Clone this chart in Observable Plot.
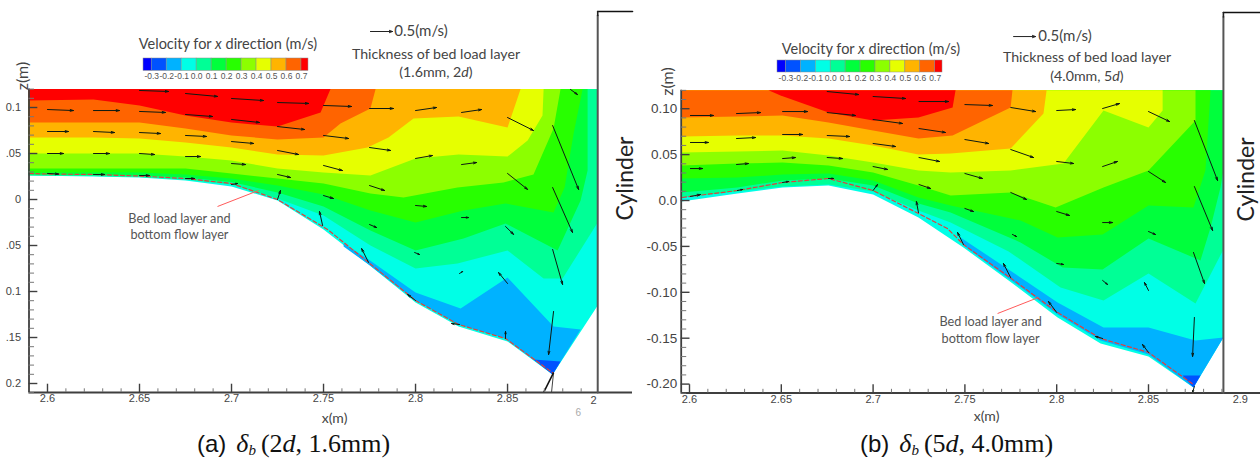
<!DOCTYPE html>
<html><head><meta charset="utf-8">
<script src="https://cdn.jsdelivr.net/npm/d3@7"></script>
<script src="https://cdn.jsdelivr.net/npm/@observablehq/plot@0.6"></script>
<style>
html,body{margin:0;padding:0;background:#fff;width:1260px;height:459px;overflow:hidden}
#page{position:relative;width:1260px;height:459px}
.slot{position:absolute}
.t{position:absolute;white-space:nowrap;font-family:Lato,sans-serif;color:#444;transform:translate(-50%,-50%)}
.c{position:absolute;white-space:nowrap;font-family:"Liberation Serif",serif;font-size:26px;line-height:28px;color:#111;transform:translate(0,-50%)}
.c .s{font-family:"Liberation Sans",sans-serif;font-size:24px;margin-right:10px}
.c .b{font-size:15px;font-style:italic;vertical-align:-3px;line-height:0;margin-right:5px}
</style></head><body><div id="page"></div>
<script>
// colour levels of the legend (m/s) and the 12 band colours
const levels=[-0.3,-0.2,-0.1,0,0.1,0.2,0.3,0.4,0.5,0.6,0.7];
const levelLabels=["-0.3","-0.2","-0.1","0.0","0.1","0.2","0.3","0.4","0.5","0.6","0.7"];
const bandColors=["#0000ff","#0052ff","#00b2ff","#00ffe6","#00ff96","#00ff3c","#28ff00","#8cff00","#e6ff00","#ffb400","#ff6400","#ff0000"];

// ---- panel (a): contour outlines [x, z]
const aBase=[[2.5897,.12],[2.5897,.0261],[2.625,.025],[2.65,.0239],[2.675,.0207],[2.7,.0141],[2.725,-.0011],[2.75,-.0326],[2.7745,-.0707],[2.8,-.112],[2.8234,-.138],[2.85,-.1543],[2.8745,-.1902],[2.899,-.1152],[2.899,.12]];
const aMinus1=[[2.7609,-.0478],[2.7745,-.0652],[2.8,-.1011],[2.8245,-.1185],[2.85,-.0848],[2.875,-.138],[2.8897,-.1413],[2.8745,-.1902],[2.8489,-.1511],[2.8234,-.1359],[2.8,-.1098],[2.7745,-.0707],[2.7609,-.0511]];
const aMinus2=[[2.8641,-.1739],[2.8788,-.1761],[2.8745,-.1902]];
const aC00=[[2.5897,.0261],[2.625,.0255],[2.65,.0245],[2.675,.0217],[2.7,.0163],[2.725,.0011],[2.75,-.0174],[2.7755,-.05],[2.8,-.075],[2.8228,-.0696],[2.85,-.0554],[2.8696,-.0859],[2.8799,-.0859],[2.899,-.025],[2.899,.12],[2.5897,.12]];
const aC01=[[2.5897,.0272],[2.625,.0266],[2.65,.0261],[2.675,.0239],[2.7,.019],[2.725,.0076],[2.75,-.0076],[2.7755,-.0337],[2.8,-.0554],[2.8261,-.0424],[2.8489,-.0261],[2.8772,-.0554],[2.8897,-.0011],[2.8935,.0315],[2.8935,.12],[2.5897,.12]];
const aC02=[[2.5897,.0293],[2.625,.0293],[2.65,.0293],[2.675,.0272],[2.7,.0228],[2.725,.0152],[2.75,.0054],[2.7755,-.012],[2.8,-.025],[2.8261,-.012],[2.8489,-.0043],[2.875,-.0141],[2.881,.013],[2.8859,.0717],[2.8908,.12],[2.5897,.12]];
const aC03=[[2.5897,.0337],[2.625,.0337],[2.65,.0337],[2.675,.0337],[2.7,.0283],[2.725,.0228],[2.75,.0174],[2.7755,.0065],[2.7935,.0022],[2.8228,.013],[2.8478,.0185],[2.8641,.0272],[2.875,.0772],[2.8788,.12],[2.5897,.12]];
const aC04=[[2.5897,.05],[2.625,.05],[2.65,.05],[2.675,.0467],[2.7,.0424],[2.725,.0337],[2.75,.0293],[2.7755,.0261],[2.8,.0446],[2.8234,.0489],[2.85,.0467],[2.8609,.0641],[2.869,.0913],[2.8696,.12],[2.5897,.12]];
const aC05=[[2.5897,.0674],[2.625,.0674],[2.65,.0663],[2.675,.062],[2.7,.0565],[2.725,.0489],[2.75,.0478],[2.7739,.0565],[2.7853,.0674],[2.7989,.088],[2.8234,.0902],[2.85,.0783],[2.8571,.12],[2.5897,.12]];
const aC06=[[2.5897,.0837],[2.625,.0837],[2.65,.0837],[2.675,.0772],[2.7,.0696],[2.725,.0652],[2.75,.0674],[2.7592,.0826],[2.7755,.0989],[2.7783,.12],[2.5897,.12]];
const aC07=[[2.5897,.1076],[2.625,.1087],[2.65,.1022],[2.675,.0913],[2.7,.0837],[2.725,.0793],[2.7484,.0946],[2.7538,.12],[2.5897,.12]];
const aBed=[[2.5902,.0283],[2.6,.0277],[2.625,.0272],[2.65,.0255],[2.675,.0228],[2.7,.0174],[2.725,0],[2.7522,-.0326],[2.7745,-.0685],[2.8,-.1098],[2.8234,-.1359],[2.8489,-.1511],[2.875,-.1891]];
// velocity vectors [x1, z1, x2, z2]
const aVectors=[
[2.65,.1185,2.6658,.1174],[2.675,.1152,2.6924,.112],[2.7,.1098,2.7174,.1076],[2.725,.1054,2.7419,.1044],[2.75,.1022,2.7652,.1011],[2.775,.0989,2.788,.0989],[2.8,.0967,2.8114,.1],[2.825,.0946,2.8359,.0978],[2.85,.0891,2.8641,.075],[2.8745,.0804,2.8886,.0109],[2.8842,.1196,2.888,.1141],
[2.6,.0978,2.6141,.0967],[2.625,.0967,2.6391,.0967],[2.65,.0957,2.6641,.0946],[2.675,.0924,2.6897,.0902],[2.7,.087,2.7152,.0837],[2.725,.0793,2.7397,.0761],[2.75,.0696,2.7636,.0663],[2.775,.0565,2.7864,.0533],[2.8,.0446,2.8092,.0478],[2.825,.038,2.8332,.0402],[2.85,.0283,2.8609,.0109],[2.8745,.013,2.8853,-.0359],
[2.6,.0739,2.6114,.0739],[2.625,.0739,2.6364,.0728],[2.65,.0728,2.6614,.0717],[2.675,.0696,2.6864,.0685],[2.7,.063,2.712,.0609],[2.725,.0533,2.7364,.0489],[2.75,.037,2.7603,.0315],[2.775,.0152,2.7832,.0098],[2.8,-.0065,2.806,-.0076],[2.825,-.0196,2.8288,-.0196],[2.8489,-.0293,2.8533,-.038],[2.8745,-.0543,2.8799,-.0924],
[2.6,.05,2.6087,.05],[2.625,.05,2.6337,.05],[2.65,.05,2.6582,.0489],[2.675,.0467,2.6832,.0467],[2.7,.0391,2.7076,.038],[2.725,.0272,2.7321,.0239],[2.75,.0043,2.7554,.0011],[2.775,-.0272,2.7788,-.0304],[2.7995,-.0576,2.8022,-.0598],[2.8239,-.0804,2.8256,-.0783],[2.85,-.0913,2.8451,-.0794],[2.875,-.1217,2.8723,-.1685],
[2.6,.0283,2.606,.0277],[2.625,.0272,2.631,.0272],[2.65,.0261,2.6554,.0261],[2.675,.0228,2.6799,.0228],[2.7,.0163,2.7033,.0174],[2.725,0,2.7266,.0098],[2.7495,-.0283,2.7478,-.013],[2.7745,-.0685,2.7707,-.0533],[2.8,-.1098,2.7957,-.1033],[2.8239,-.1359,2.8196,-.1348],[2.8489,-.1511,2.8489,-.1435]];
const aTipLines=[[2.875,-.1881,2.8696,-.2098],[2.875,-.1881,2.8739,-.2098]];
const aLeader=[[2.6924,-.0076],[2.7147,.0098]];
const aRefVector=[[2.7755,.1826,2.7875,.1826]];

// ---- panel (b): contour outlines [x, z]
const bBase=[[2.5956,.12],[2.5956,-.0011],[2.6261,.0076],[2.6507,.0142],[2.6757,.0163],[2.7,.0065],[2.7247,-.0185],[2.7492,-.0512],[2.7738,-.0871],[2.8005,-.1274],[2.8239,-.1557],[2.85,-.1699],[2.8745,-.2036],[2.8908,-.1492],[2.8908,.12]];
const bMinus1=[[2.7476,-.0403],[2.7738,-.0751],[2.8005,-.1111],[2.8255,-.1383],[2.85,-.1383],[2.8756,-.1525],[2.8908,-.1492],[2.8745,-.2036],[2.85,-.1677],[2.8239,-.1525],[2.8005,-.1241],[2.7738,-.0849],[2.7492,-.049]];
const bMinus2=[[2.8685,-.1906],[2.8783,-.1906],[2.8745,-.2036]];
const bC00=[[2.5956,.0033],[2.6261,.0098],[2.6507,.0152],[2.6757,.0174],[2.7,.0098],[2.7247,-.0109],[2.7422,-.024],[2.7738,-.0555],[2.8021,-.0947],[2.8255,-.1089],[2.85,-.0795],[2.8756,-.1122],[2.8908,-.0534],[2.8908,.12],[2.5956,.12]];
const bC01=[[2.5956,.0087],[2.6261,.0142],[2.6507,.0218],[2.6757,.024],[2.7,.0163],[2.7247,-.0033],[2.7422,-.0131],[2.7803,-.0457],[2.8032,-.073],[2.825,-.0751],[2.85,-.0414],[2.8783,-.0653],[2.8838,-.0294],[2.8892,.0142],[2.8908,.0327],[2.8908,.12],[2.5956,.12]];
const bC02=[[2.5956,.024],[2.6261,.025],[2.6507,.0283],[2.6757,.0294],[2.7,.0218],[2.7247,.0033],[2.7422,-.0054],[2.7803,-.0218],[2.8005,-.0403],[2.825,-.037],[2.85,-.0054],[2.8745,-.0076],[2.881,.0327],[2.8838,.12],[2.5956,.12]];
const bC03=[[2.5956,.0381],[2.6261,.0403],[2.6507,.0414],[2.6757,.0381],[2.7,.0305],[2.7247,.0163],[2.7422,.0054],[2.7749,.0087],[2.7994,-.0076],[2.8255,.0142],[2.85,.0327],[2.8756,.0871],[2.8756,.12],[2.5956,.12]];
const bC04=[[2.5956,.0523],[2.6261,.0534],[2.6507,.0545],[2.6757,.049],[2.7,.0414],[2.7247,.0327],[2.7422,.0305],[2.7749,.0327],[2.8037,.0403],[2.8255,.098],[2.85,.0795],[2.8577,.098],[2.8577,.12],[2.5956,.12]];
const bC05=[[2.5956,.0697],[2.6261,.0708],[2.6507,.0708],[2.6757,.0675],[2.7,.0599],[2.7247,.0501],[2.7422,.0512],[2.7749,.0566],[2.7928,.0947],[2.7945,.12],[2.5956,.12]];
const bC06=[[2.5956,.0904],[2.6261,.0915],[2.6507,.0926],[2.6757,.0849],[2.7,.0762],[2.7247,.0675],[2.7433,.0708],[2.7749,.1013],[2.7759,.12],[2.5956,.12]];
const bC07=[[2.643,.12],[2.6496,.1143],[2.6757,.0958],[2.7,.0871],[2.7247,.0904],[2.7433,.1013],[2.7449,.12]];
const bBed=[[2.5962,.0033],[2.6005,.0044],[2.6261,.0109],[2.6507,.0196],[2.6757,.024],[2.7,.0109],[2.7247,-.0142],[2.7405,-.0305],[2.7492,-.0479],[2.7738,-.0828],[2.8005,-.122],[2.8239,-.1503],[2.85,-.1655],[2.8745,-.2004]];
const bVectors=[
[2.675,.1187,2.6921,.1154],[2.7,.1133,2.7177,.1111],[2.725,.1078,2.7411,.1078],[2.75,.1045,2.765,.1035],[2.775,.1013,2.7885,.0969],[2.8,.098,2.8103,.0991],[2.825,.1002,2.8342,.1056],[2.85,.0969,2.8615,.086],[2.875,.0871,2.8876,.0218],
[2.6005,.0926,2.6131,.0926],[2.6256,.0947,2.6387,.0958],[2.6507,.0969,2.6643,.0969],[2.675,.0958,2.6904,.0926],[2.7,.0882,2.716,.0839],[2.725,.0784,2.7394,.0741],[2.75,.0664,2.7629,.0621],[2.775,.0555,2.7874,.0468],[2.8,.0425,2.8092,.0403],[2.825,.037,2.8331,.0425],[2.85,.0316,2.8593,.0196],[2.875,.0152,2.8849,-.0327],
[2.6005,.0632,2.6103,.0632],[2.6256,.0675,2.636,.0686],[2.6507,.0719,2.6616,.0719],[2.675,.0708,2.6872,.0697],[2.7,.0621,2.7122,.0588],[2.725,.0468,2.7362,.0425],[2.75,.0294,2.7596,.024],[2.775,.0087,2.7836,.0011],[2.8,-.012,2.807,-.0163],[2.825,-.024,2.8304,-.024],[2.85,-.0338,2.8538,-.037],[2.8745,-.0566,2.8805,-.0904],
[2.6005,.0348,2.6071,.0348],[2.6256,.0392,2.6321,.0403],[2.6507,.0457,2.6577,.0468],[2.675,.0468,2.6833,.0457],[2.7,.037,2.7079,.0338],[2.725,.0174,2.7313,.0131],[2.75,-.0087,2.7547,-.012],[2.7759,-.037,2.7781,-.0392],[2.8,-.0686,2.8037,-.0697],[2.825,-.0871,2.8277,-.0915],[2.85,-.098,2.8478,-.0893],[2.875,-.1274,2.874,-.1699],
[2.6005,.0044,2.606,.0065],[2.6261,.0109,2.6289,.012],[2.6507,.0196,2.6539,.0207],[2.6757,.024,2.6784,.024],[2.7,.0109,2.7024,.0174],[2.7247,-.0131,2.7236,-.0011],[2.7492,-.0479,2.746,-.0348],[2.7749,-.0839,2.771,-.0686],[2.8,-.122,2.7955,-.11],[2.825,-.1503,2.8211,-.1481],[2.85,-.1655,2.8467,-.1568],[2.875,-.2026,2.874,-.2091]];
const bTipLines=[];
const bLeader=[[2.7678,-.1231],[2.7901,-.1056]];
const bRefVector=[[2.7765,.1786,2.7885,.1786]];

// axis ticks and labels
const aXTicks=[2.6,2.65,2.7,2.75,2.8,2.85];
const aXLabels=["2.6","2.65","2.7","2.75","2.8","2.85"];
const bXTicks=[2.6,2.65,2.7,2.75,2.8,2.85,2.9];
const bXLabels=["2.6","2.65","2.7","2.75","2.8","2.85","2.9"];
const xMinor=[2.59,2.61,2.62,2.63,2.64,2.66,2.67,2.68,2.69,2.71,2.72,2.73,2.74,2.76,2.77,2.78,2.79,2.81,2.82,2.83,2.84,2.86,2.87,2.88,2.89];
const yMajor=[0.1,0.05,0,-0.05,-0.1,-0.15,-0.2];
const aYLabels=["0.1",".05","0",".05","0.1",".15","0.2"];
const bYLabels=["0.10","0.05","0.0","-0.05","-0.10","-0.15","-0.20"];
const yMinor=[.12,.11,.09,.08,.07,.06,.04,.03,.02,.01,-.01,-.02,-.03,-.04,-.06,-.07,-.08,-.09,-.11,-.12,-.13,-.14,-.16,-.17,-.18,-.19,-.21];

const X=d=>d[0],Y=d=>d[1];
function panel(o){
  const fills=[[o.base,bandColors[3]],[o.m1,bandColors[2]],[o.m2,bandColors[1]],[o.c[0],bandColors[4]],[o.c[1],bandColors[5]],[o.c[2],bandColors[6]],[o.c[3],bandColors[7]],[o.c[4],bandColors[8]],[o.c[5],bandColors[9]],[o.c[6],bandColors[10]],[o.c[7],bandColors[11]]];
  const xl=o.xDomain[0], zb=o.yDomain[0];
  const axisC="#3f3f3f";
  const xMajorIn=o.xTicks.filter(d=>d<o.wall);
  return Plot.plot({
    width:o.width,height:o.height,marginLeft:o.ml,marginRight:o.mr,marginTop:o.mt,marginBottom:o.mb,
    x:{domain:o.xDomain,axis:null},y:{domain:[o.yDomain[0],o.yDomain[1]],axis:null},
    style:{background:"transparent",fontFamily:"'Liberation Sans',sans-serif",overflow:"visible"},
    marks:[
      ...fills.map(([p,c])=>Plot.line(p,{x:X,y:Y,fill:c,stroke:"none"})),
      Plot.line(o.bed,{x:X,y:Y,stroke:"#e0403c",strokeWidth:1.2,strokeDasharray:"4 2.5"}),
      Plot.link(o.leader.slice(0,1),{x1:()=>o.leader[0][0],y1:()=>o.leader[0][1],x2:()=>o.leader[1][0],y2:()=>o.leader[1][1],stroke:"#ff5a5a",strokeWidth:1}),
      Plot.arrow(o.vectors,{x1:d=>d[0],y1:d=>d[1],x2:d=>d[2],y2:d=>d[3],stroke:"#0d1a12",strokeWidth:1,headLength:5,headAngle:30,bend:0}),
      Plot.arrow(o.ref,{x1:d=>d[0],y1:d=>d[1],x2:d=>d[2],y2:d=>d[3],stroke:"#222",strokeWidth:1,headLength:5,headAngle:40,bend:0}),
      Plot.link(o.tip,{x1:d=>d[0],y1:d=>d[1],x2:d=>d[2],y2:d=>d[3],stroke:"#111",strokeWidth:(d,i)=>i?0.8:1.6}),
      // frame of the plot
      Plot.ruleX([xl],{y1:zb,y2:.12,stroke:axisC,strokeWidth:1.8}),
      Plot.ruleY([zb],{x1:xl,x2:o.xDomain[1],stroke:axisC,strokeWidth:1.8}),
      Plot.line([[o.wall,zb],[o.wall,.2]],{x:X,y:Y,stroke:"#555",strokeWidth:2}),
      Plot.line([[o.wall,o.yDomain[1]],[o.xDomain[1],o.yDomain[1]]],{x:X,y:Y,stroke:"#111",strokeWidth:1.6}),
      Plot.line([[o.wall,.2],[o.wall,o.yDomain[1]]],{x:X,y:Y,stroke:"#222",strokeWidth:1.6}),
      // ticks
      Plot.ruleY(yMajor,{y:d=>d,x1:xl,x2:xl+.0048,stroke:axisC,strokeWidth:1.4}),
      Plot.ruleY(yMinor,{y:d=>d,x1:xl,x2:xl+.003,stroke:"#777",strokeWidth:1}),
      Plot.ruleX(xMajorIn,{x:d=>d,y1:zb,y2:zb+.009,stroke:axisC,strokeWidth:1.4}),
      Plot.ruleX(xMinor.filter(d=>d>o.minX),{x:d=>d,y1:zb,y2:zb+.004,stroke:"#777",strokeWidth:1}),
      Plot.axisX(o.xTicks,{anchor:"bottom",tickSize:0,tickPadding:2,fontSize:11,fill:"#444",label:null,tickFormat:d=>o.xLabels[o.xTicks.indexOf(d)]}),
      Plot.axisY(yMajor,{anchor:"left",tickSize:0,tickPadding:o.yPad,fontSize:o.yFont,fill:"#444",label:null,tickFormat:d=>o.yLabels[yMajor.indexOf(d)]}),
      ...o.extra
    ]});
}

function colourLegend(dom,w,h){
  const edges=[dom[0],...levels,dom[1]];
  const bands=bandColors.map((c,i)=>({a:edges[i],b:edges[i+1],c}));
  return Plot.plot({width:w,height:h+18,marginLeft:10,marginRight:10,marginTop:0,marginBottom:18,
    x:{domain:dom,axis:null},y:{axis:null},
    style:{background:"transparent",fontFamily:"'Liberation Sans',sans-serif",overflow:"visible"},
    marks:[
      Plot.rect(bands,{x1:"a",x2:"b",fill:d=>d.c,stroke:"#8a8a8a",strokeWidth:0.5}),
      Plot.axisX(levels,{anchor:"bottom",tickSize:0,tickPadding:2,fontSize:8.5,fill:"#555",label:null,tickFormat:d=>levelLabels[levels.indexOf(d)]})
    ]});
}

const page=document.getElementById("page");
function put(node,left,top){const s=document.createElement("div");s.className="slot";s.style.left=left+"px";s.style.top=top+"px";s.appendChild(node);page.appendChild(s);}
function txt(html,x,y,size,cls){const d=document.createElement("div");d.className=cls||"t";d.style.left=x+"px";d.style.top=y+"px";if(size)d.style.fontSize=size+"px";d.innerHTML=html;page.appendChild(d);}

const lab=(rows,opts)=>Plot.text(rows,{x:X,y:Y,text:d=>d[2],fontFamily:"Lato",...opts});

put(panel({width:640,height:425,ml:28.5,mr:8,mt:11,mb:33,
  xDomain:[2.58995,2.9179],yDomain:[-.20978,.20435],wall:2.899,minX:2.59,
  base:aBase,m1:aMinus1,m2:aMinus2,c:[aC00,aC01,aC02,aC03,aC04,aC05,aC06,aC07],bed:aBed,leader:aLeader,vectors:aVectors,ref:aRefVector,tip:aTipLines,
  xTicks:aXTicks,xLabels:aXLabels,yLabels:aYLabels,yPad:8,yFont:11,
  extra:[
    lab([[2.5864,.1342,"z(m)"]],{rotate:-90,fontSize:16,fill:"#444"}),
    lab([[2.9141,.0228,"Cylinder"]],{rotate:-90,fontSize:23,fill:"#222"}),
    lab([[2.6717,-.0207,"Bed load layer and"],[2.6717,-.038,"bottom flow layer"]],{fontSize:12.7,fill:"#555"}),
    lab([[2.756,-.238,"x(m)"]],{fontSize:14,fill:"#444"}),
    Plot.text([[2.8967,-.2185,"2"]],{x:X,y:Y,text:d=>d[2],fontSize:11,fill:"#444"}),
    Plot.text([[2.8885,-.2315,"6"]],{x:X,y:Y,text:d=>d[2],fontSize:10,fill:"#aaa"})
  ]}),0,0);

put(panel({width:620,height:425,ml:40.7,mr:0,mt:12,mb:32.5,
  xDomain:[2.59548,2.911],yDomain:[-.2097,.2048],wall:2.8908,minX:2.595,
  base:bBase,m1:bMinus1,m2:bMinus2,c:[bC00,bC01,bC02,bC03,bC04,bC05,bC06,bC07],bed:bBed,leader:bLeader,vectors:bVectors,ref:bRefVector,tip:bTipLines,
  xTicks:bXTicks,xLabels:bXLabels,yLabels:bYLabels,yPad:4,yFont:13.5,
  extra:[
    lab([[2.588,.1296,"z(m)"]],{rotate:-90,fontSize:16,fill:"#444"}),
    lab([[2.9034,.0229,"Cylinder"]],{rotate:-90,fontSize:23,fill:"#222"}),
    lab([[2.764,-.1328,"Bed load layer and"],[2.764,-.1503,"bottom flow layer"]],{fontSize:12.7,fill:"#555"}),
    lab([[2.7618,-.2353,"x(m)"]],{fontSize:14,fill:"#444"})
  ]}),640,0);

put(colourLegend([-.3547,.7467],185,12.4),132.5,58.3);
put(colourLegend([-.3563,.7489],185,12),767.3,60);

txt('Velocity for <i>x</i> direction (m/s)',228,43,14.5);
txt('0.5(m/s)',421,30,15);
txt('Thickness of bed load layer',436,53,14.2);
txt('(1.6mm, 2<i>d</i>)',436,71,14.2);
txt('Velocity for <i>x</i> direction (m/s)',871,48,14.5);
txt('0.5(m/s)',1065,35,15);
txt('Thickness of bed load layer',1087,56,14.2);
txt('(4.0mm, 5<i>d</i>)',1087,75,14.2);

txt('<span class="s">(a)</span><i>δ</i><span class="b">b</span>(2<i>d</i>, 1.6mm)',197,444,0,'c');
txt('<span class="s">(b)</span><i>δ</i><span class="b">b</span>(5<i>d</i>, 4.0mm)',860,444,0,'c');
</script></body></html>
